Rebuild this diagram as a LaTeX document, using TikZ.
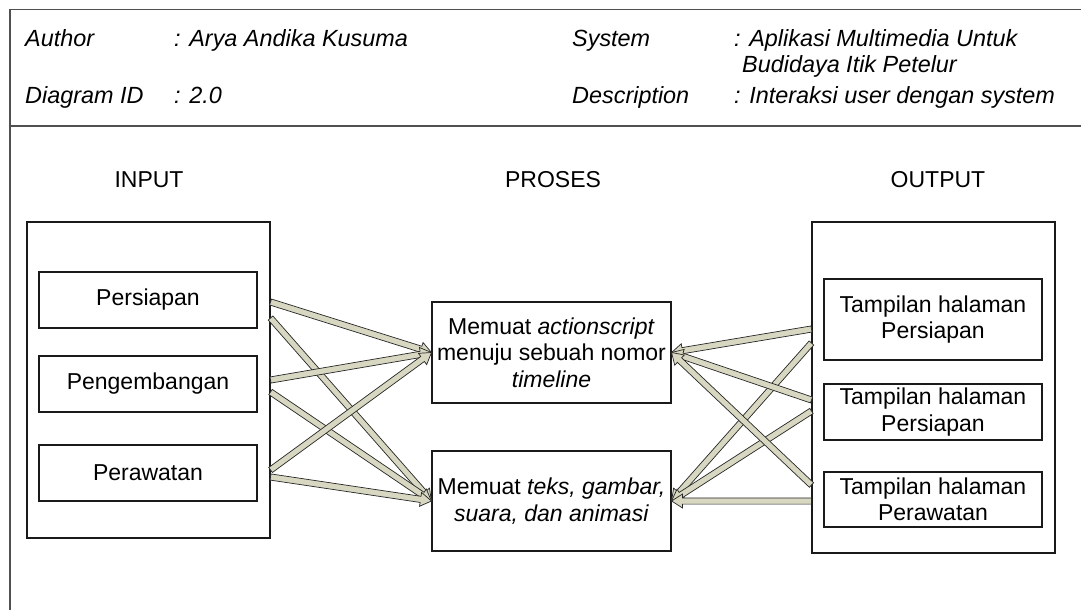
\documentclass[tikz,border=0pt]{standalone}
\usepackage{fontspec}
\setmainfont{Liberation Sans}
\usetikzlibrary{calc,shadows}

\definecolor{framegray}{HTML}{505050}
\definecolor{boxline}{HTML}{1A1A1A}
\definecolor{arrowfill}{HTML}{D8D8C2}
\definecolor{arrowline}{HTML}{262626}

\tikzset{
  frameline/.style={draw=framegray, line width=1.4pt},
  txt/.style={font=\fontsize{23}{26.5}\selectfont, inner sep=0pt},
  hdr/.style={txt, font=\fontsize{23.4}{26.5}\selectfont\itshape, anchor=base west},
  plainbox/.style={draw=boxline, line width=1.1pt, fill=white,
    drop shadow={shadow xshift=1.3pt, shadow yshift=-1.3pt, fill=black!50, opacity=1}},
  groupbox/.style={plainbox, minimum width=243pt},
  itembox/.style={plainbox, txt, align=center, minimum width=218pt},
  procbox/.style={plainbox, txt, align=center, minimum width=239pt},
  fatarrow/.style={fill=arrowfill, draw=arrowline, line width=0.7pt, line join=miter}
}

% block arrow from a point to a node anchor
\newcommand\fatarrow[2]{%
  \path[fatarrow] let \p1=(#1), \p2=(#2),
      \n1={atan2(\y2-\y1,\x2-\x1)} in
    ($(\p1)+(\n1+90:3.1pt)$)
    -- ($(\p2)+(\n1:-11pt)+(\n1+90:3.1pt)$)
    -- ($(\p2)+(\n1:-11pt)+(\n1+90:7pt)$)
    -- (\p2)
    -- ($(\p2)+(\n1:-11pt)+(\n1-90:7pt)$)
    -- ($(\p2)+(\n1:-11pt)+(\n1-90:3.1pt)$)
    -- ($(\p1)+(\n1-90:3.1pt)$)
    -- cycle;%
}

\begin{document}
\begin{tikzpicture}[x=1pt, y=-1pt]
  \useasboundingbox (0,0) rectangle (1081,610);
  \fill[white] (0,0) rectangle (1081,610);

  % frame
  \coordinate (ftl) at (10,9.5);
  \coordinate (ftr) at (1081,9.5);
  \coordinate (fbl) at (10,610);
  \coordinate (fdl) at (10,126);
  \coordinate (fdr) at (1081,126);
  \draw[frameline] (fbl) -- (ftl) -- (ftr);
  \draw[frameline] (fdl) -- (fdr);

  % header
  \node[hdr] (author) at (25,47) {Author};
  \node[hdr] (authorv) at (174,47) {: Arya Andika Kusuma};
  \node[hdr] (diag) at (25,103) {Diagram ID};
  \node[hdr] (diagv) at (174,103) {: 2.0};
  \node[hdr] (sys) at (572,47) {System};
  \node[hdr] (sysv) at (734,47) {: Aplikasi Multimedia Untuk};
  \node[hdr] (sysv2) at (742,73) {Budidaya Itik Petelur};
  \node[hdr] (desc) at (572,103) {Description};
  \node[hdr] (descv) at (734,103) {: Interaksi user dengan system};

  % column titles
  \node[txt] (tin) at (149,180) {INPUT};
  \node[txt] (tpro) at (553,180) {PROSES};
  \node[txt] (tout) at (938,180) {OUTPUT};

  % input group
  \node[groupbox, minimum height=316pt] (inbox) at (148.5,380) {};
  \node[itembox, minimum height=56pt] (in1) at (148,300) {Persiapan};
  \node[itembox, minimum height=56pt] (in2) at (148,384) {Pengembangan};
  \node[itembox, minimum height=56pt] (in3) at (148,473) {Perawatan};

  % process
  \node[procbox, minimum height=101pt] (mtop) at (551.5,352.5)
    {Memuat \textit{actionscript}\\menuju sebuah nomor\\\textit{timeline}};
  \node[procbox, minimum height=100pt] (mbot) at (551.5,501)
    {Memuat \textit{teks, gambar,}\\\textit{suara, dan animasi}};

  % output group
  \node[groupbox, minimum height=331pt] (outbox) at (933.5,387.5) {};
  \node[itembox, minimum height=81pt] (out1) at (933,319.5) {Tampilan halaman\\Persiapan};
  \node[itembox, minimum height=56pt] (out2) at (933,412) {Tampilan halaman\\Persiapan};
  \node[itembox, minimum height=55pt] (out3) at (933,499.5) {Tampilan halaman\\Perawatan};

  % arrow start points on the group borders
  \coordinate (l1) at ($(inbox.east |- in1)+(0,2)$);
  \coordinate (l2) at ($(inbox.east |- in1)+(0,18)$);
  \coordinate (l3) at ($(inbox.east |- in2)+(0,-4)$);
  \coordinate (l4) at ($(inbox.east |- in2)+(0,8)$);
  \coordinate (l5) at ($(inbox.east |- in3)+(0,-3)$);
  \coordinate (l6) at ($(inbox.east |- in3)+(0,4)$);
  \coordinate (r1) at ($(outbox.west |- out1)+(0,9.5)$);
  \coordinate (r2) at ($(outbox.west |- out1)+(0,23.5)$);
  \coordinate (r3) at ($(outbox.west |- out2)+(0,-12)$);
  \coordinate (r4) at ($(outbox.west |- out2)+(0,-1)$);
  \coordinate (r5) at ($(outbox.west |- out3)+(0,-14.5)$);
  \coordinate (r6) at ($(outbox.west |- out3)+(0,1.5)$);

  % input -> process
  \fatarrow{l1}{mtop.west}
  \fatarrow{l2}{mbot.west}
  \fatarrow{l3}{mtop.west}
  \fatarrow{l4}{mbot.west}
  \fatarrow{l5}{mtop.west}
  \fatarrow{l6}{mbot.west}

  % output -> process
  \fatarrow{r1}{mtop.east}
  \fatarrow{r2}{mbot.east}
  \fatarrow{r3}{mtop.east}
  \fatarrow{r4}{mbot.east}
  \fatarrow{r5}{mtop.east}
  \fatarrow{r6}{mbot.east}
\end{tikzpicture}
\end{document}
